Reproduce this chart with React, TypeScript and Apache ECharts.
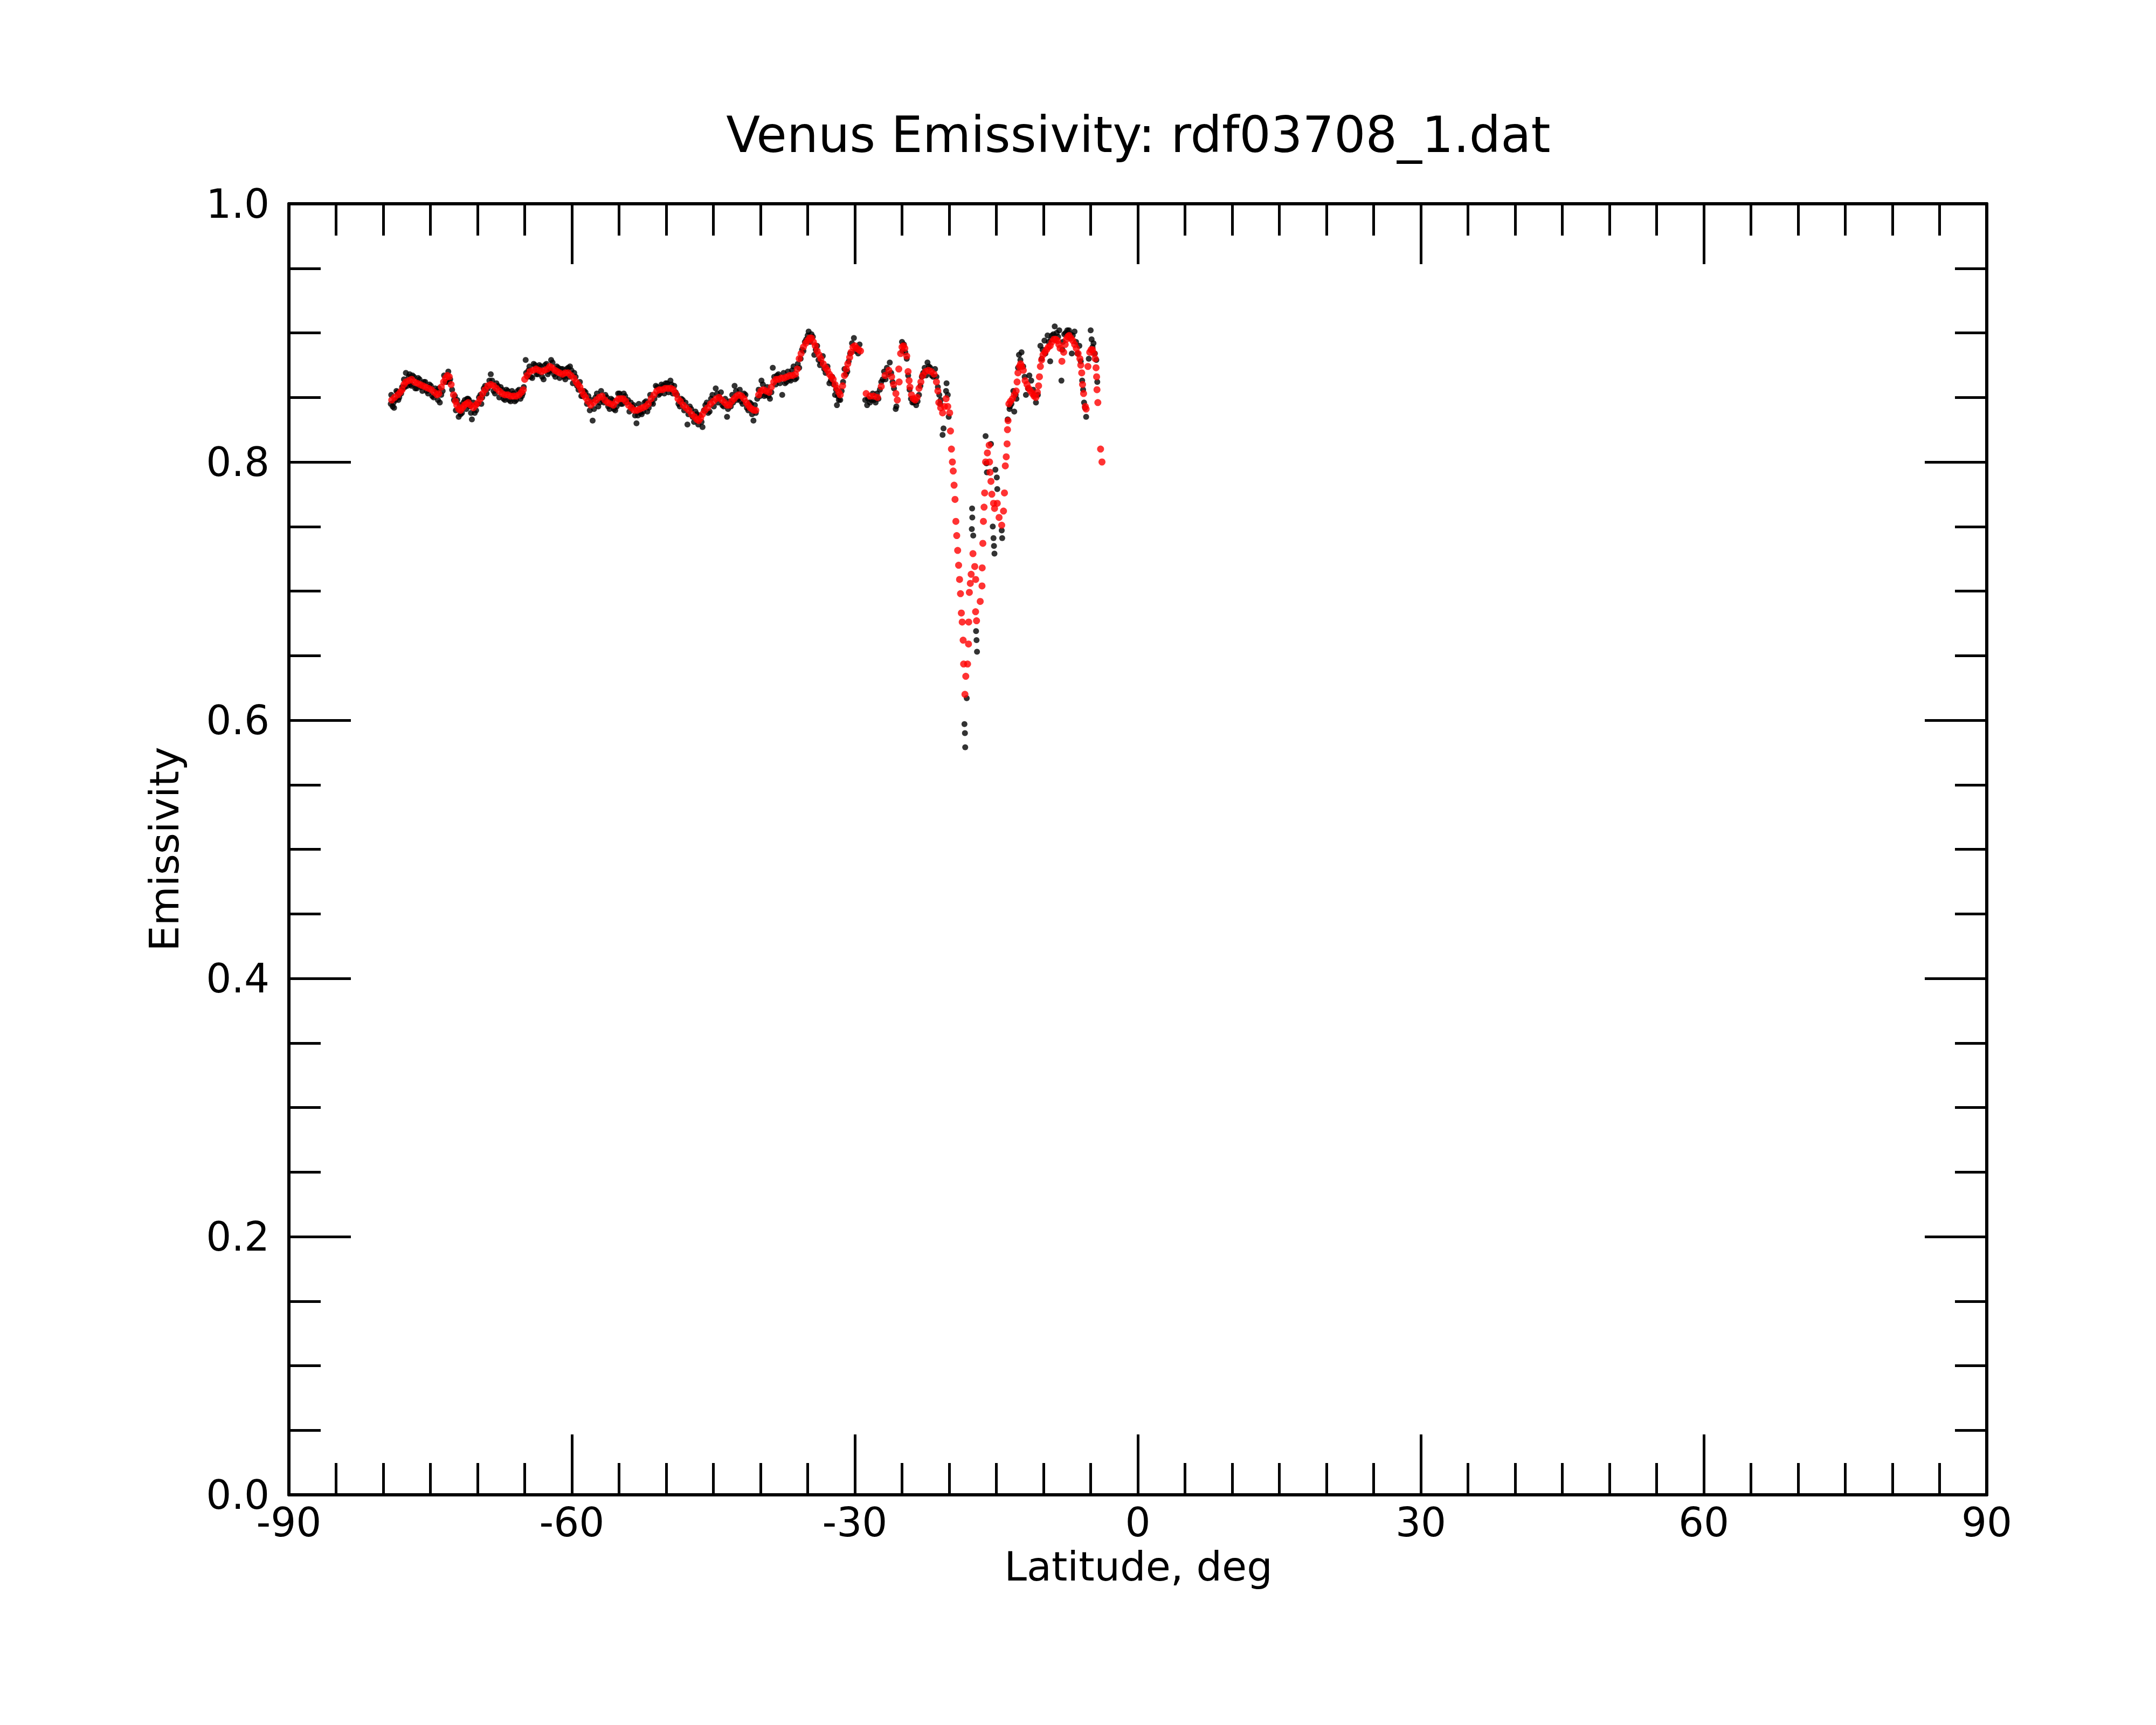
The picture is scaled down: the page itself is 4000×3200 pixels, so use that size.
import React, { useEffect, useRef } from "react";
import * as echarts from "echarts";

const TITLE = "Venus Emissivity: rdf03708_1.dat";
const X_NAME = "Latitude, deg";
const Y_NAME = "Emissivity";
const X_MIN = -90;
const X_MAX = 90;
const X_STEP = 30;
const Y_MIN = 0;
const Y_MAX = 1;
const Y_STEP = 0.2;

// Raw emissivity samples (black), southern plateau
const rawSouth: number[][] = [
  [-79.2, 0.845], [-79.0, 0.843], [-78.85, 0.842], [-78.7, 0.848], [-78.5, 0.854], [-78.3, 0.85], [-78.0, 0.858],
  [-77.8, 0.864], [-77.6, 0.869], [-77.3, 0.866], [-77.1, 0.86], [-76.9, 0.867], [-76.6, 0.857], [-76.3, 0.865],
  [-76.0, 0.858], [-75.7, 0.862], [-75.4, 0.855], [-75.1, 0.86], [-74.8, 0.851], [-74.5, 0.857], [-74.2, 0.848],
  [-74.0, 0.846], [-73.7, 0.855], [-73.4, 0.862], [-73.1, 0.87], [-72.9, 0.864], [-72.5, 0.848], [-72.3, 0.84],
  [-72.0, 0.835], [-71.8, 0.837], [-71.5, 0.846], [-71.2, 0.841], [-71.0, 0.849], [-70.8, 0.843], [-70.6, 0.833],
  [-70.3, 0.838], [-70.0, 0.845], [-69.7, 0.852], [-69.5, 0.85], [-69.2, 0.859], [-68.9, 0.857], [-68.6, 0.868],
  [-68.3, 0.855], [-68.0, 0.861], [-67.7, 0.85], [-67.4, 0.856], [-67.1, 0.848], [-66.8, 0.855], [-66.5, 0.847],
  [-66.2, 0.853], [-65.9, 0.848], [-65.6, 0.856], [-65.3, 0.851], [-65.1, 0.858],
  [-64.9, 0.879], [-64.7, 0.866], [-64.5, 0.874], [-64.2, 0.865], [-63.9, 0.875], [-63.6, 0.868], [-63.3, 0.874],
  [-63.0, 0.864], [-62.7, 0.876], [-62.4, 0.87], [-62.2, 0.879], [-61.9, 0.868], [-61.6, 0.874], [-61.3, 0.865],
  [-61.0, 0.872], [-60.7, 0.864], [-60.4, 0.873], [-60.2, 0.874], [-59.9, 0.861], [-59.6, 0.866], [-59.3, 0.856],
  [-59.0, 0.851], [-58.7, 0.855], [-58.4, 0.845], [-58.1, 0.84], [-57.8, 0.832], [-57.5, 0.85], [-57.2, 0.843],
  [-56.9, 0.855], [-56.6, 0.846], [-56.3, 0.85], [-56.0, 0.841], [-55.7, 0.848], [-55.4, 0.84], [-55.1, 0.853],
  [-54.8, 0.845], [-54.5, 0.853], [-54.2, 0.846], [-53.9, 0.839], [-53.6, 0.843], [-53.3, 0.836], [-53.15, 0.83],
  [-52.9, 0.845], [-52.6, 0.837], [-52.3, 0.846], [-52.0, 0.839], [-51.7, 0.852], [-51.4, 0.845], [-51.1, 0.859],
  [-50.8, 0.852], [-50.5, 0.86], [-50.2, 0.853],
  [-49.9, 0.861], [-49.55, 0.863], [-49.3, 0.853], [-49.0, 0.854], [-48.7, 0.845], [-48.4, 0.849], [-48.1, 0.84],
  [-47.75, 0.829], [-47.5, 0.843], [-47.2, 0.835], [-46.9, 0.839], [-46.6, 0.829], [-46.15, 0.827], [-46.0, 0.84],
  [-45.7, 0.846], [-45.4, 0.839], [-45.1, 0.852], [-44.75, 0.857], [-44.5, 0.846], [-44.2, 0.854], [-43.9, 0.843],
  [-43.55, 0.835], [-43.3, 0.847], [-43.0, 0.852], [-42.75, 0.859], [-42.5, 0.848], [-42.2, 0.856], [-41.9, 0.845],
  [-41.6, 0.852], [-41.3, 0.84], [-41.0, 0.845], [-40.75, 0.832], [-40.5, 0.838], [-40.2, 0.856], [-39.9, 0.863],
  [-39.6, 0.851], [-39.3, 0.858], [-39.0, 0.849], [-38.7, 0.873], [-38.4, 0.86], [-38.1, 0.868], [-37.7, 0.852],
  [-37.4, 0.861], [-37.1, 0.87], [-36.8, 0.863], [-36.5, 0.874], [-36.2, 0.865], [-35.9, 0.873], [-35.6, 0.887],
  [-35.3, 0.893], [-35.0, 0.898], [-34.9, 0.901], [-34.6, 0.899], [-34.3, 0.883], [-34.0, 0.89], [-33.7, 0.875],
  [-33.4, 0.882], [-33.1, 0.869], [-32.7, 0.861], [-32.4, 0.866], [-32.1, 0.852], [-31.9, 0.844], [-31.7, 0.848],
  [-31.4, 0.855], [-31.1, 0.872], [-30.8, 0.87], [-30.5, 0.884], [-30.1, 0.896], [-29.8, 0.888], [-29.5, 0.891],
];

// More raw samples (black), southern plateau
const rawSouthHalo: number[][] = [
  [-79.15, 0.852], [-78.9, 0.846], [-78.6, 0.855], [-78.4, 0.848], [-78.1, 0.853], [-77.9, 0.857], [-77.7, 0.858],
  [-77.45, 0.859], [-77.2, 0.868], [-77.0, 0.859], [-76.75, 0.866], [-76.45, 0.857], [-76.15, 0.864], [-75.85, 0.855],
  [-75.55, 0.862], [-75.25, 0.853], [-74.95, 0.859], [-74.65, 0.85], [-74.35, 0.855], [-74.1, 0.857], [-73.85, 0.852],
  [-73.55, 0.867], [-73.25, 0.862], [-73.0, 0.862], [-72.7, 0.856],
  [-72.4, 0.851], [-72.15, 0.848], [-71.9, 0.844], [-71.65, 0.838], [-71.35, 0.848], [-71.1, 0.849], [-70.9, 0.848],
  [-70.7, 0.838], [-70.45, 0.846], [-70.15, 0.84], [-69.85, 0.85], [-69.6, 0.845], [-69.35, 0.857], [-69.05, 0.853],
  [-68.75, 0.863], [-68.45, 0.863], [-68.15, 0.853], [-67.85, 0.859], [-67.55, 0.858], [-67.25, 0.849], [-66.95, 0.856],
  [-66.65, 0.848], [-66.35, 0.855], [-66.05, 0.847], [-65.75, 0.855], [-65.45, 0.849], [-65.2, 0.853],
  [-64.85, 0.869], [-64.6, 0.871], [-64.35, 0.866], [-64.05, 0.876], [-63.75, 0.868], [-63.45, 0.875], [-63.15, 0.866],
  [-62.85, 0.875], [-62.55, 0.868], [-62.3, 0.871], [-62.05, 0.877], [-61.75, 0.866], [-61.45, 0.873], [-61.15, 0.872],
  [-60.85, 0.866], [-60.55, 0.872], [-60.3, 0.866], [-60.05, 0.871], [-59.75, 0.869], [-59.45, 0.859], [-59.15, 0.862],
  [-58.85, 0.851], [-58.55, 0.854], [-58.25, 0.851], [-57.95, 0.848], [-57.65, 0.841], [-57.35, 0.853], [-57.05, 0.846],
  [-56.75, 0.848], [-56.45, 0.852], [-56.15, 0.843], [-55.85, 0.849], [-55.55, 0.841], [-55.25, 0.843], [-54.95, 0.853],
  [-54.65, 0.845], [-54.35, 0.851], [-54.05, 0.848], [-53.75, 0.846], [-53.45, 0.844], [-53.0, 0.836], [-52.75, 0.838],
  [-52.45, 0.839], [-52.15, 0.847], [-51.85, 0.842], [-51.55, 0.846], [-51.25, 0.849], [-50.95, 0.858], [-50.65, 0.853],
  [-50.35, 0.859], [-50.05, 0.861],
  [-49.75, 0.854], [-49.45, 0.86], [-49.15, 0.859], [-48.85, 0.852], [-48.55, 0.843], [-48.25, 0.848], [-47.95, 0.846],
  [-47.65, 0.837], [-47.35, 0.841], [-47.05, 0.831], [-46.75, 0.837], [-46.45, 0.836], [-46.25, 0.831], [-45.85, 0.844],
  [-45.55, 0.838], [-45.25, 0.849], [-44.95, 0.843], [-44.6, 0.853], [-44.35, 0.85], [-44.05, 0.844], [-43.75, 0.849],
  [-43.45, 0.841], [-43.15, 0.843], [-42.9, 0.846], [-42.6, 0.855], [-42.35, 0.849], [-42.05, 0.847], [-41.75, 0.853],
  [-41.45, 0.842], [-41.15, 0.846], [-40.9, 0.837], [-40.6, 0.844], [-40.35, 0.849], [-40.05, 0.851], [-39.75, 0.86],
  [-39.45, 0.852], [-39.15, 0.851], [-38.85, 0.854], [-38.55, 0.866], [-38.25, 0.867], [-37.95, 0.861], [-37.55, 0.869],
  [-37.25, 0.862], [-36.95, 0.864], [-36.65, 0.871], [-36.35, 0.864], [-36.05, 0.876], [-35.75, 0.88], [-35.45, 0.886],
  [-35.15, 0.895], [-34.75, 0.893], [-34.45, 0.897], [-34.15, 0.887], [-33.85, 0.879], [-33.55, 0.877], [-33.25, 0.872],
  [-32.9, 0.874], [-32.55, 0.863], [-32.25, 0.86], [-32.0, 0.856], [-31.8, 0.851], [-31.55, 0.848], [-31.25, 0.862],
  [-30.95, 0.868], [-30.65, 0.878], [-30.3, 0.892], [-29.95, 0.886], [-29.65, 0.884],
];

// Raw emissivity samples (black), trough and northern end
const rawNorth: number[][] = [
  [-28.9, 0.848], [-28.7, 0.844], [-28.4, 0.846], [-28.1, 0.853], [-27.8, 0.846], [-27.5, 0.849], [-27.2, 0.862],
  [-26.9, 0.87], [-26.6, 0.873], [-26.3, 0.877], [-26.0, 0.862], [-25.67, 0.841], [-25.6, 0.843], [-25.0, 0.893],
  [-24.8, 0.891], [-24.5, 0.88], [-24.2, 0.856], [-23.9, 0.846], [-23.5, 0.844], [-23.2, 0.852], [-22.9, 0.866],
  [-22.6, 0.873], [-22.3, 0.877], [-22.0, 0.873], [-21.7, 0.866], [-21.5, 0.872], [-21.2, 0.858], [-20.9, 0.848],
  [-20.7, 0.821], [-20.6, 0.826], [-20.33, 0.855], [-20.28, 0.861], [-20.15, 0.852], [-20.05, 0.835],
  [-18.38, 0.597], [-18.33, 0.59], [-18.3, 0.579], [-18.14, 0.617],
  [-17.57, 0.764], [-17.55, 0.757], [-17.6, 0.748], [-17.45, 0.743], [-17.15, 0.669], [-17.1, 0.662], [-17.05, 0.653],
  [-16.14, 0.82], [-16.05, 0.799], [-16.0, 0.792], [-15.57, 0.814], [-15.1, 0.794], [-14.95, 0.788], [-14.9, 0.779],
  [-15.38, 0.75], [-15.3, 0.741], [-15.25, 0.735], [-15.2, 0.729], [-14.43, 0.747], [-14.38, 0.741],
  [-13.8, 0.833], [-13.6, 0.841], [-13.4, 0.845], [-13.1, 0.839], [-12.87, 0.849], [-12.6, 0.883],
  [-12.33, 0.885], [-12.0, 0.866], [-11.86, 0.852], [-11.5, 0.867], [-11.3, 0.863], [-11.0, 0.852], [-10.8, 0.846],
  [-10.33, 0.89], [-10.2, 0.88], [-9.9, 0.894], [-9.57, 0.898], [-9.45, 0.893], [-9.29, 0.878], [-9.1, 0.898],
  [-8.81, 0.905], [-8.6, 0.9], [-8.33, 0.902], [-8.1, 0.863], [-8.0, 0.887], [-7.8, 0.899], [-7.48, 0.902],
  [-7.3, 0.902], [-7.0, 0.884], [-6.9, 0.898], [-6.71, 0.901], [-6.4, 0.884], [-6.2, 0.89], [-5.9, 0.863],
  [-5.7, 0.846], [-5.48, 0.835], [-5.0, 0.902], [-4.9, 0.895], [-4.7, 0.892], [-4.4, 0.879], [-4.3, 0.862],
];

// More raw samples (black) from the halo, trough and northern end
const rawNorthHalo: number[][] = [
  [-28.6, 0.849], [-28.25, 0.848], [-27.95, 0.848], [-27.65, 0.853], [-27.35, 0.856], [-27.05, 0.864], [-26.75, 0.864],
  [-26.45, 0.868], [-26.15, 0.869], [-25.85, 0.857], [-24.95, 0.886], [-24.65, 0.885], [-24.35, 0.867], [-24.05, 0.849],
  [-23.75, 0.846], [-23.35, 0.847], [-23.05, 0.859], [-22.75, 0.869], [-22.45, 0.867], [-22.15, 0.874], [-21.85, 0.867],
  [-21.35, 0.866], [-21.05, 0.852], [-20.95, 0.845],
  [-13.55, 0.843], [-13.2, 0.855], [-12.95, 0.852], [-12.7, 0.873], [-12.45, 0.879], [-12.15, 0.874], [-11.65, 0.857],
  [-11.1, 0.856], [-10.6, 0.852], [-10.1, 0.887], [-9.8, 0.884], [-9.2, 0.895], [-8.95, 0.899], [-8.45, 0.897],
  [-7.95, 0.893], [-7.65, 0.9], [-7.15, 0.899], [-6.55, 0.893], [-6.05, 0.878], [-5.8, 0.856], [-5.6, 0.842],
  [-5.2, 0.88], [-4.8, 0.889], [-4.55, 0.884],
];

// Filtered emissivity (red), southern plateau
const smoothSouth: number[][] = [
  [-79.1, 0.848], [-78.8, 0.85], [-78.45, 0.852], [-78.2, 0.854], [-78.0, 0.856], [-77.8, 0.86], [-77.6, 0.862],
  [-77.3, 0.863], [-77.0, 0.864], [-76.7, 0.862], [-76.4, 0.861], [-76.1, 0.86], [-75.8, 0.859], [-75.5, 0.858],
  [-75.2, 0.857], [-74.9, 0.856], [-74.6, 0.854], [-74.3, 0.852], [-74.1, 0.853], [-73.85, 0.858], [-73.6, 0.862],
  [-73.4, 0.865], [-73.2, 0.867], [-73.0, 0.866], [-72.8, 0.86],
  [-72.55, 0.852], [-72.35, 0.847], [-72.2, 0.844], [-72.0, 0.841], [-71.8, 0.84], [-71.6, 0.842], [-71.4, 0.844],
  [-71.2, 0.845], [-71.0, 0.846], [-70.75, 0.844], [-70.45, 0.842], [-70.2, 0.844], [-69.95, 0.846], [-69.7, 0.849],
  [-69.45, 0.853], [-69.2, 0.856], [-68.9, 0.859], [-68.6, 0.86], [-68.3, 0.859], [-68.0, 0.857], [-67.7, 0.855],
  [-67.4, 0.853], [-67.1, 0.852], [-66.8, 0.852], [-66.5, 0.851], [-66.2, 0.851], [-65.9, 0.851], [-65.6, 0.852],
  [-65.35, 0.854], [-65.15, 0.856],
  [-65.0, 0.864], [-64.75, 0.867], [-64.45, 0.87], [-64.1, 0.871], [-63.8, 0.872], [-63.5, 0.871], [-63.2, 0.87],
  [-62.9, 0.871], [-62.6, 0.872], [-62.35, 0.874], [-62.1, 0.873], [-61.8, 0.871], [-61.55, 0.87], [-61.3, 0.869],
  [-61.0, 0.868], [-60.7, 0.869], [-60.4, 0.869], [-60.1, 0.867], [-59.8, 0.865], [-59.55, 0.862], [-59.35, 0.86],
  [-59.15, 0.858], [-58.95, 0.855], [-58.75, 0.852], [-58.55, 0.85], [-58.3, 0.847], [-58.0, 0.844], [-57.7, 0.846],
  [-57.4, 0.848], [-57.1, 0.85], [-56.8, 0.851], [-56.5, 0.848], [-56.2, 0.846], [-55.9, 0.845], [-55.6, 0.844],
  [-55.3, 0.847], [-55.05, 0.849], [-54.8, 0.849], [-54.55, 0.849], [-54.3, 0.847], [-54.0, 0.844], [-53.7, 0.842],
  [-53.4, 0.84], [-53.1, 0.84], [-52.8, 0.841], [-52.5, 0.842], [-52.2, 0.843], [-51.9, 0.845], [-51.6, 0.849],
  [-51.3, 0.852], [-51.0, 0.855], [-50.7, 0.856], [-50.4, 0.856], [-50.1, 0.857], [-49.8, 0.857], [-49.5, 0.857],
  [-49.25, 0.856], [-49.0, 0.853], [-48.75, 0.849], [-48.5, 0.847], [-48.2, 0.844], [-47.9, 0.842], [-47.6, 0.84],
  [-47.3, 0.837], [-47.0, 0.835], [-46.75, 0.833], [-46.55, 0.832], [-46.35, 0.834], [-46.15, 0.837], [-45.9, 0.84],
  [-45.6, 0.842], [-45.3, 0.845], [-45.0, 0.847], [-44.7, 0.849], [-44.4, 0.85], [-44.1, 0.848], [-43.8, 0.846],
  [-43.55, 0.844], [-43.3, 0.844], [-43.05, 0.847], [-42.8, 0.849], [-42.55, 0.851], [-42.3, 0.852], [-42.0, 0.851],
  [-41.75, 0.849], [-41.5, 0.846], [-41.3, 0.844], [-41.1, 0.842], [-40.9, 0.841], [-40.7, 0.84], [-40.5, 0.84],
  [-40.2, 0.852], [-39.95, 0.855], [-39.7, 0.856], [-39.4, 0.855], [-39.1, 0.854], [-38.85, 0.858], [-38.6, 0.862],
  [-38.35, 0.864], [-38.1, 0.864], [-37.8, 0.865], [-37.5, 0.865], [-37.2, 0.866], [-36.9, 0.867], [-36.6, 0.867],
  [-36.3, 0.868], [-36.1, 0.872], [-35.9, 0.88], [-35.7, 0.884], [-35.45, 0.889], [-35.2, 0.892], [-35.0, 0.894],
  [-34.8, 0.896], [-34.6, 0.896], [-34.4, 0.893], [-34.2, 0.89], [-34.0, 0.886], [-33.8, 0.883], [-33.6, 0.88],
  [-33.35, 0.876], [-33.1, 0.873], [-32.9, 0.871], [-32.7, 0.868], [-32.5, 0.866], [-32.3, 0.864], [-32.1, 0.86],
  [-31.9, 0.857], [-31.7, 0.854], [-31.55, 0.852], [-31.3, 0.859], [-31.1, 0.867], [-30.9, 0.872], [-30.75, 0.876],
  [-30.55, 0.881], [-30.4, 0.885], [-30.2, 0.889], [-30.0, 0.89], [-29.8, 0.888], [-29.6, 0.887], [-29.4, 0.886],
];

// Filtered emissivity (red), trough and northern end
const smoothNorth: number[][] = [
  [-28.8, 0.853], [-28.4, 0.851], [-28.0, 0.851], [-27.6, 0.85], [-27.2, 0.8585], [-26.8, 0.867], [-26.4, 0.871],
  [-26.1, 0.866], [-25.9, 0.86], [-25.65, 0.853], [-25.5, 0.848], [-25.34, 0.872], [-25.3, 0.862], [-25.15, 0.884],
  [-25.0, 0.889], [-24.85, 0.89], [-24.7, 0.888], [-24.5, 0.882], [-24.36, 0.87], [-24.25, 0.863], [-24.16, 0.858],
  [-24.0, 0.852], [-23.8, 0.849], [-23.6, 0.848], [-23.4, 0.85], [-23.2, 0.857], [-23.0, 0.862], [-22.8, 0.867],
  [-22.5, 0.87], [-22.2, 0.871], [-21.9, 0.87], [-21.6, 0.868], [-21.35, 0.862], [-21.2, 0.855], [-21.1, 0.846],
  [-20.9, 0.842], [-20.7, 0.838], [-20.5, 0.843], [-20.33, 0.849], [-20.15, 0.843], [-19.95, 0.838], [-19.86, 0.824],
  [-19.76, 0.81], [-19.66, 0.8], [-19.57, 0.793], [-19.48, 0.782], [-19.38, 0.771], [-19.29, 0.754], [-19.2, 0.743],
  [-19.1, 0.7315], [-19.0, 0.72], [-18.9, 0.709], [-18.8, 0.698], [-18.71, 0.683], [-18.62, 0.676], [-18.52, 0.662],
  [-18.47, 0.6435], [-18.33, 0.62], [-18.24, 0.634], [-18.05, 0.6435], [-17.95, 0.659], [-17.93, 0.676],
  [-17.86, 0.699], [-17.76, 0.706], [-17.67, 0.713], [-17.48, 0.729], [-17.29, 0.719], [-17.19, 0.709],
  [-17.2, 0.684], [-17.1, 0.677], [-16.71, 0.692], [-16.52, 0.704], [-16.5, 0.718], [-16.43, 0.737], [-16.37, 0.754],
  [-16.3, 0.765], [-16.24, 0.776], [-16.14, 0.8], [-15.95, 0.807], [-15.76, 0.813], [-15.72, 0.8], [-15.67, 0.792],
  [-15.57, 0.785], [-15.48, 0.775], [-15.3, 0.768], [-15.19, 0.764], [-14.9, 0.768], [-14.71, 0.757], [-14.43, 0.751],
  [-14.24, 0.762], [-14.14, 0.776], [-14.05, 0.797], [-13.95, 0.804], [-13.86, 0.814], [-13.82, 0.825],
  [-13.76, 0.832], [-13.67, 0.845], [-13.5, 0.847], [-13.29, 0.849], [-13.1, 0.852], [-12.9, 0.855], [-12.8, 0.862],
  [-12.71, 0.869], [-12.55, 0.874], [-12.43, 0.876], [-12.3, 0.874], [-12.14, 0.871], [-11.95, 0.863], [-11.75, 0.86],
  [-11.57, 0.857], [-11.38, 0.855], [-11.19, 0.853], [-11.0, 0.851], [-10.81, 0.85], [-10.65, 0.854], [-10.52, 0.859],
  [-10.43, 0.866], [-10.33, 0.874], [-10.2, 0.879], [-10.05, 0.883], [-9.85, 0.885], [-9.67, 0.887], [-9.48, 0.889],
  [-9.29, 0.89], [-9.1, 0.893], [-8.9, 0.895], [-8.7, 0.895], [-8.52, 0.894], [-8.38, 0.891], [-8.24, 0.888],
  [-8.05, 0.878], [-7.86, 0.885], [-7.7, 0.891], [-7.57, 0.895], [-7.43, 0.897], [-7.29, 0.898], [-7.1, 0.896],
  [-6.9, 0.894], [-6.7, 0.891], [-6.52, 0.888], [-6.33, 0.884], [-6.14, 0.88], [-6.05, 0.875], [-5.95, 0.869],
  [-5.86, 0.86], [-5.75, 0.853], [-5.57, 0.843], [-5.48, 0.841], [-5.29, 0.874], [-5.1, 0.885], [-4.95, 0.887],
  [-4.81, 0.887], [-4.65, 0.884], [-4.52, 0.88], [-4.43, 0.873], [-4.37, 0.866], [-4.33, 0.856], [-4.24, 0.846],
  [-3.95, 0.81], [-3.8, 0.8],
];

const FONT = "DejaVu Sans";

export default function App() {
  const ref = useRef<HTMLDivElement>(null);

  useEffect(() => {
    if (!ref.current) return;
    const chart = echarts.init(ref.current, null, { renderer: "svg", width: 4000, height: 3200 });

    const line = { show: true, onZero: false, lineStyle: { color: "#000", width: 6 } };
    const tickStyle = { color: "#000", width: 5 };

    const xBase = {
      type: "value",
      min: X_MIN,
      max: X_MAX,
      interval: X_STEP,
      axisLine: line,
      axisTick: { show: true, inside: true, length: 112, lineStyle: tickStyle },
      minorTick: { show: true, splitNumber: 6, length: 59, lineStyle: tickStyle },
      splitLine: { show: false },
      minorSplitLine: { show: false },
    };
    const yBase = {
      type: "value",
      min: Y_MIN,
      max: Y_MAX,
      interval: Y_STEP,
      axisLine: line,
      axisTick: { show: true, inside: true, length: 115, lineStyle: tickStyle },
      minorTick: { show: true, splitNumber: 4, length: 59, lineStyle: tickStyle },
      splitLine: { show: false },
      minorSplitLine: { show: false },
    };

    const textStyle = (text: string, size: number) => ({
      text,
      fill: "#000",
      fontSize: size,
      fontFamily: FONT,
      textAlign: "center",
      textVerticalAlign: "middle",
      align: "center",
      verticalAlign: "middle",
    });

    const option: any = {
      animation: false,
      backgroundColor: "#fff",
      grid: { left: 536, top: 378, right: 314, bottom: 427, containLabel: false },
      xAxis: [
        {
          ...xBase,
          position: "bottom",
          axisLabel: { show: true, margin: 14, fontSize: 74, fontFamily: FONT, color: "#000" },
        },
        { ...xBase, position: "top", axisLabel: { show: false } },
      ],
      yAxis: [
        {
          ...yBase,
          position: "left",
          axisLabel: {
            show: true,
            margin: 36,
            fontSize: 74,
            fontFamily: FONT,
            color: "#000",
            formatter: (v: number) => v.toFixed(1),
          },
        },
        { ...yBase, position: "right", axisLabel: { show: false } },
      ],
      graphic: [
        { type: "text", x: 2112, y: 250, style: textStyle(TITLE, 92) },
        { type: "text", x: 2112, y: 2906, style: textStyle(X_NAME, 75) },
        { type: "text", x: 305, y: 1575, rotation: Math.PI / 2, style: textStyle(Y_NAME, 75) },
      ],
      series: [
        {
          name: "raw",
          type: "scatter",
          xAxisIndex: 0,
          yAxisIndex: 0,
          data: [...rawSouth, ...rawSouthHalo, ...rawNorth, ...rawNorthHalo],
          symbol: "circle",
          symbolSize: 11,
          itemStyle: { color: "#000" },
          silent: true,
        },
        {
          name: "smoothed",
          type: "scatter",
          xAxisIndex: 0,
          yAxisIndex: 0,
          data: [...smoothSouth, ...smoothNorth],
          symbol: "circle",
          symbolSize: 13,
          itemStyle: { color: "#ff0000" },
          silent: true,
        },
      ],
    };

    chart.setOption(option);
    return () => chart.dispose();
  }, []);

  return (
    <div
      ref={ref}
      style={{ position: "absolute", left: 0, top: 0, width: 4000, height: 3200, background: "#fff" }}
    />
  );
}
